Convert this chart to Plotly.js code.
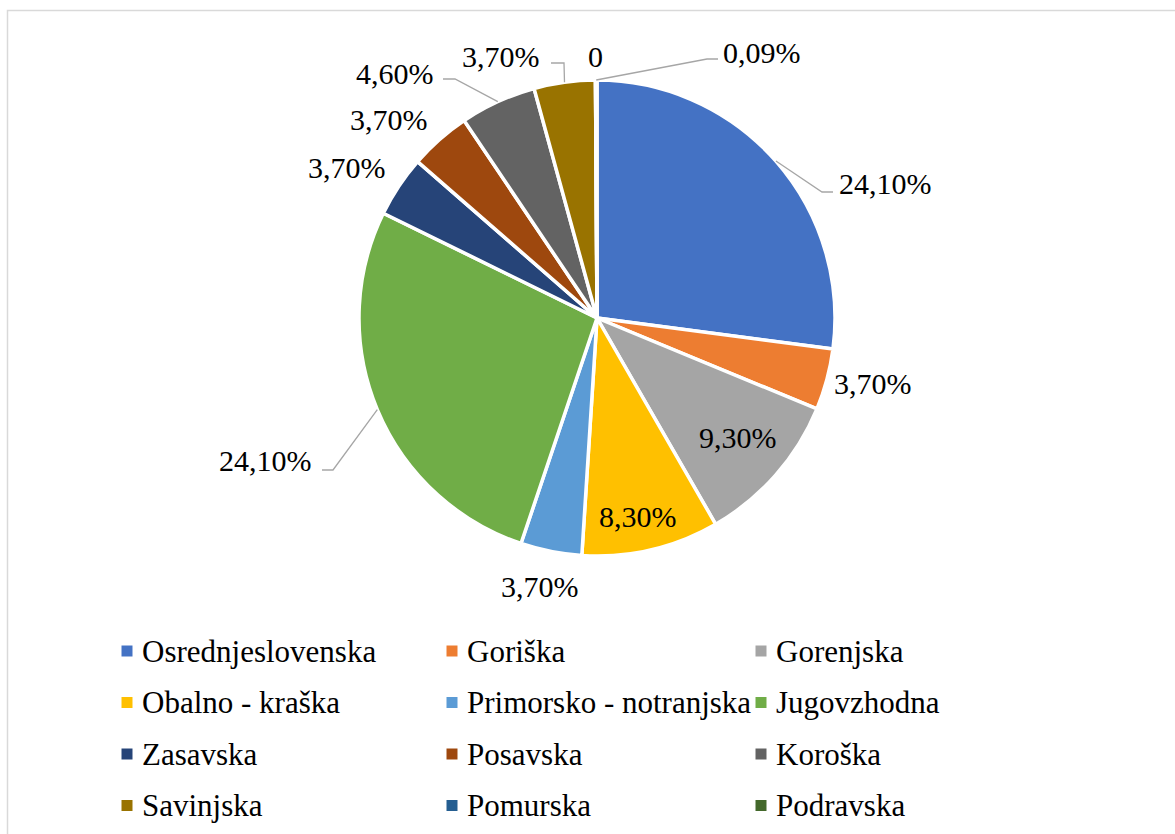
<!DOCTYPE html>
<html><head><meta charset="utf-8">
<script src="https://cdn.plot.ly/plotly-3.0.1.min.js"></script>
<style>html,body{margin:0;padding:0;background:#fff;} #chart{width:1175px;height:834px;}</style>
</head><body><div id="chart"></div>
<script>
// ---- data ----
const regions = ['Osrednjeslovenska','Goriška','Gorenjska','Obalno - kraška','Primorsko - notranjska','Jugovzhodna','Zasavska','Posavska','Koroška','Savinjska','Pomurska','Podravska'];
const shares = [24.10, 3.70, 9.30, 8.30, 3.70, 24.10, 3.70, 3.70, 4.60, 3.70, 0, 0.09];
const shareLabels = ['24,10%','3,70%','9,30%','8,30%','3,70%','24,10%','3,70%','3,70%','4,60%','3,70%','0','0,09%'];
const colors = ['#4472C4','#ED7D31','#A5A5A5','#FFC000','#5B9BD5','#70AD47','#264478','#9E480E','#636363','#997300','#255E91','#43682B'];

// ---- layout config (pixels) ----
const W = 1175, H = 834;
const CX = 597, CY = 318, R = 238;
const FONT = 'Liberation Serif';
const FS = 30, LFS = 31;
const labelPos = [[885,183],[873,383],[738,437],[638,516],[540,586],[265,460],[347,167],[389,119],[395,73],[501,56],[595,56],[762,52]];
const leaders = {0:[[822,192],[833,192]], 5:[[333,470],[322,470]], 8:[[455,79],[443,79]], 9:[[564,63],[551,63]], 11:[[707,59],[718,59]]};
const legendColX = [127, 452, 761];
const legendRowY = [651, 702.5, 754, 805.5];

const total = shares.reduce((a,b)=>a+b,0);

const pie = {
  type: 'pie', values: shares, labels: regions, sort: false, direction: 'clockwise', rotation: 0,
  marker: {colors: colors, line: {color: '#ffffff', width: 3.5}},
  textinfo: 'none', hoverinfo: 'skip', showlegend: false,
  domain: {x: [(CX-R)/W, (CX+R)/W], y: [1-(CY+R)/H, 1-(CY-R)/H]}
};

const legX = regions.map((_, i) => legendColX[i % 3]);
const legY = regions.map((_, i) => legendRowY[Math.floor(i / 3)]);
const legendMarkers = {
  type: 'scatter', mode: 'markers', x: legX, y: legY, hoverinfo: 'skip', showlegend: false,
  marker: {symbol: 'square', size: 11, color: colors, line: {width: 0}}
};

const annotations = [];
const shapes = [];
shapes.push({type: 'rect', xref: 'x', yref: 'y', x0: 7.5, y0: 10.5, x1: W + 10, y1: H + 10, line: {color: '#d9d9d9', width: 1.5}});

let cum = 0;
shares.forEach((v, i) => {
  const mid = (cum + v / 2) / total * 2 * Math.PI;
  cum += v;
  annotations.push({xref: 'x', yref: 'y', x: labelPos[i][0], y: labelPos[i][1], text: shareLabels[i], showarrow: false,
    xanchor: 'center', yanchor: 'middle', font: {family: FONT, size: FS, color: '#000'}});
  if (leaders[i]) {
    const sx = CX + R * Math.sin(mid), sy = CY - R * Math.cos(mid);
    const b = leaders[i][0], e = leaders[i][1];
    shapes.push({type: 'path', xref: 'x', yref: 'y', path: `M${sx},${sy} L${b[0]},${b[1]} L${e[0]},${e[1]}`,
      line: {color: '#a6a6a6', width: 1.3}});
  }
});

regions.forEach((name, i) => {
  annotations.push({xref: 'x', yref: 'y', x: legX[i] + 13, y: legY[i], text: name, showarrow: false,
    xanchor: 'left', yanchor: 'middle', font: {family: FONT, size: LFS, color: '#000'}});
});

const layout = {
  width: W, height: H, margin: {l: 0, r: 0, t: 0, b: 0},
  paper_bgcolor: '#fff', plot_bgcolor: 'rgba(0,0,0,0)',
  xaxis: {range: [0, W], visible: false, fixedrange: true},
  yaxis: {range: [H, 0], visible: false, fixedrange: true},
  showlegend: false, annotations: annotations, shapes: shapes,
  font: {family: FONT}
};

Plotly.newPlot('chart', [legendMarkers, pie], layout, {displayModeBar: false, staticPlot: true});
</script>
</body></html>
